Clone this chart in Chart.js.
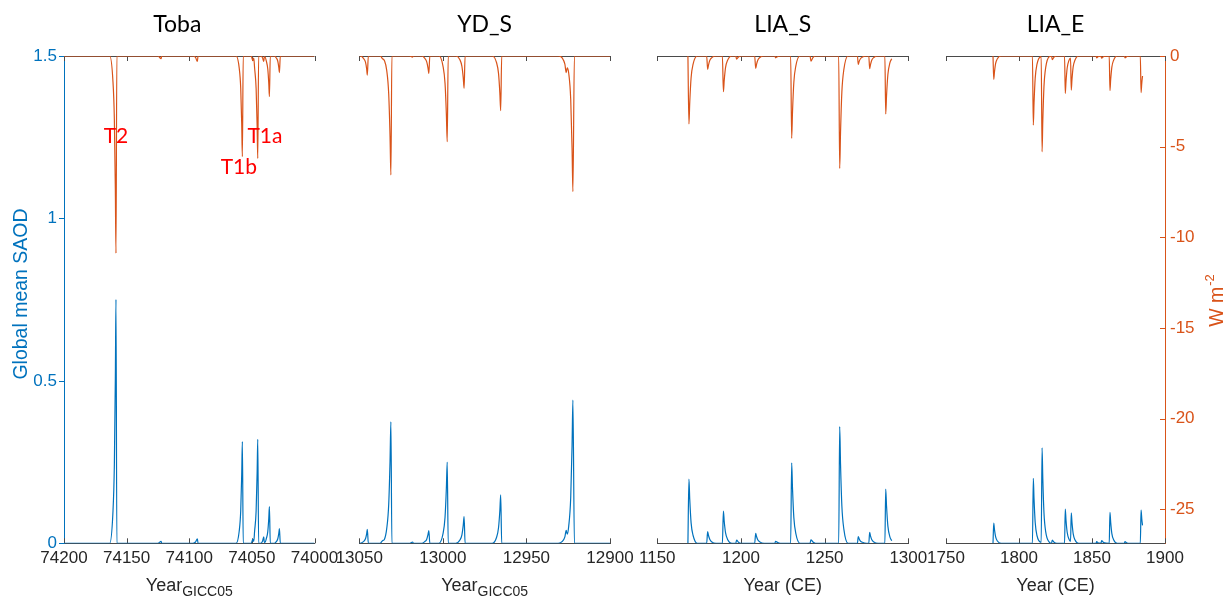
<!DOCTYPE html>
<html>
<head>
<meta charset="utf-8">
<script src="https://cdn.jsdelivr.net/npm/chart.js@4/dist/chart.umd.min.js"></script>
<style>
html,body{margin:0;padding:0;background:#fff;width:1231px;height:602px;overflow:hidden}
canvas{position:absolute;left:0;top:0}
</style>
</head>
<body>
<canvas id="c1" width="1231" height="602"></canvas>
<canvas id="c2" width="1231" height="602"></canvas>
<canvas id="c3" width="1231" height="602"></canvas>
<canvas id="c4" width="1231" height="602"></canvas>
<script>
// ---------------- data ----------------
const panelTitles = ["Toba", "YD_S", "LIA_S", "LIA_E"];

const tobaYears = [74200, 74163.5, 74161, 74159.8, 74159, 74158.5, 74157.8, 74125, 74122.5, 74122, 74097, 74095, 74093.5, 74093, 74062.6, 74060.1, 74058.9, 74058.1, 74057.6, 74056.9, 74050.5, 74049.3, 74048.5, 74047.8, 74046.6, 74045.8, 74045.3, 74044.6, 74043, 74041.5, 74040.5, 74040.1, 74039.5, 74038.5, 74037.3, 74036.5, 74036.0, 74035.3, 74032, 74030.5, 74029.3, 74028.5, 74028.0, 74027.3, 74000];
const tobaSaod = [0, 0, 0.09, 0.24, 0.51, 0.751, 0, 0, 0.006, 0, 0, 0.004, 0.014, 0, 0, 0.038, 0.10, 0.213, 0.313, 0, 0, 0.012, 0.006, 0.038, 0.10, 0.218, 0.320, 0, 0, 0.006, 0.02, 0.003, 0.003, 0.014, 0.036, 0.077, 0.113, 0, 0, 0.005, 0.014, 0.031, 0.045, 0, 0];
const tobaForcing = [0, 0, -1.31, -3.48, -7.40, -10.88, 0, 0, -0.15, 0, 0, -0.08, -0.30, 0, 0, -0.67, -1.78, -3.77, -5.55, 0, 0, -0.25, -0.12, -0.68, -1.81, -3.84, -5.65, 0, 0, -0.10, -0.30, -0.05, -0.05, -0.27, -0.72, -1.52, -2.24, 0, 0, -0.11, -0.29, -0.63, -0.92, 0, 0];

const ydYears = [13050, 13049.5, 13047.5, 13046.3, 13045.6, 13045.2, 13044.6, 13037.5, 13036.1, 13035, 13033.6, 13032.4, 13031.6, 13031.1, 13030.5, 13020, 13018.1, 13017.5, 13012.5, 13010.9, 13009.7, 13008.9, 13008.4, 13007.8, 13002.4, 12999.9, 12998.7, 12997.9, 12997.4, 12996.8, 12992.3, 12989.8, 12988.6, 12987.8, 12987.3, 12986.7, 12970.4, 12967.9, 12966.7, 12965.9, 12965.4, 12964.8, 12931, 12928.5, 12927, 12926.2, 12925.6, 12924.7, 12923.5, 12922.7, 12922.2, 12921.3, 12900];
const ydSaod = [0, 0, 0.005, 0.014, 0.029, 0.043, 0, 0, 0.008, 0.012, 0.045, 0.12, 0.254, 0.374, 0, 0, 0.004, 0, 0, 0.005, 0.012, 0.027, 0.039, 0, 0, 0.030, 0.080, 0.170, 0.250, 0, 0, 0.010, 0.026, 0.056, 0.082, 0, 0, 0.018, 0.048, 0.101, 0.149, 0, 0, 0.006, 0.020, 0.040, 0.028, 0.053, 0.141, 0.300, 0.441, 0, 0];
const ydForcing = [0, 0, -0.13, -0.34, -0.71, -1.05, 0, 0, -0.15, -0.25, -0.79, -2.10, -4.46, -6.56, 0, 0, -0.06, 0, 0, -0.12, -0.31, -0.65, -0.96, 0, 0, -0.57, -1.51, -3.22, -4.73, 0, 0, -0.21, -0.57, -1.21, -1.78, 0, 0, -0.36, -0.96, -2.05, -3.01, 0, 0, -0.12, -0.45, -0.92, -0.65, -0.95, -2.39, -5.09, -7.48, 0, 0];

const liasYears = [1168.3, 1168.9, 1169.4, 1170.2, 1171.4, 1173.9, 1179.5, 1180.1, 1180.6, 1181.4, 1182.6, 1185.1, 1188.9, 1189.5, 1190.0, 1190.8, 1192.0, 1194.5, 1196.9, 1197.4, 1198.5, 1200, 1208.2, 1208.8, 1209.3, 1210.1, 1211.3, 1213.8, 1220.2, 1220.7, 1222, 1223.5, 1229.7, 1230.3, 1230.8, 1231.6, 1232.8, 1235.3, 1241.3, 1241.8, 1243, 1244.5, 1258.4, 1259.0, 1259.5, 1260.3, 1261.5, 1264, 1269.6, 1270.1, 1270.6, 1271.4, 1272.6, 1275, 1276.4, 1276.9, 1277.4, 1278.2, 1279.4, 1281.9, 1286.0, 1286.5, 1287.0, 1287.8, 1289.0, 1290.1];
const liasSaod = [0, 0.198, 0.135, 0.063, 0.024, 0, 0, 0.036, 0.024, 0.012, 0.004, 0, 0, 0.099, 0.067, 0.032, 0.012, 0, 0, 0.010, 0.003, 0, 0, 0.031, 0.021, 0.010, 0.004, 0, 0, 0.006, 0.002, 0, 0, 0.248, 0.169, 0.079, 0.030, 0, 0, 0.011, 0.004, 0, 0, 0.359, 0.244, 0.115, 0.043, 0, 0, 0.021, 0.014, 0.007, 0.003, 0, 0, 0.034, 0.023, 0.011, 0.004, 0, 0, 0.167, 0.114, 0.053, 0.020, 0.008];
const liasForcing = [0, -3.75, -2.55, -1.20, -0.45, 0, 0, -0.74, -0.50, -0.24, -0.09, 0, 0, -1.97, -1.34, -0.63, -0.24, 0, 0, -0.17, -0.05, 0, 0, -0.68, -0.46, -0.22, -0.08, 0, 0, -0.10, -0.03, 0, 0, -4.54, -3.09, -1.45, -0.54, 0, 0, -0.28, -0.09, 0, 0, -6.20, -4.22, -1.98, -0.74, 0, 0, -0.46, -0.31, -0.15, -0.06, 0, 0, -0.70, -0.48, -0.22, -0.08, 0, 0, -3.20, -2.18, -1.02, -0.38, -0.15];

const liaeYears = [1782.2, 1782.7, 1783.2, 1784.0, 1785.2, 1787.7, 1809.2, 1809.8, 1810.3, 1811.1, 1812.3, 1815.2, 1815.8, 1816.3, 1817.1, 1818.3, 1820.8, 1822.3, 1822.8, 1824, 1826, 1831.2, 1831.7, 1832.2, 1833.0, 1834.2, 1835.3, 1835.8, 1836.3, 1837.1, 1838.3, 1840.8, 1852.8, 1853.2, 1854.5, 1856.2, 1856.6, 1858, 1861.8, 1862.3, 1862.8, 1863.6, 1864.8, 1867.3, 1872.2, 1872.6, 1874, 1876, 1883.1, 1883.6, 1884.1, 1884.6];
const liaeSaod = [0, 0.062, 0.042, 0.020, 0.007, 0, 0, 0.200, 0.136, 0.064, 0.024, 0.003, 0.294, 0.200, 0.094, 0.035, 0.003, 0, 0.010, 0.003, 0, 0, 0.105, 0.071, 0.034, 0.013, 0.006, 0.094, 0.064, 0.030, 0.011, 0, 0, 0.005, 0.001, 0.001, 0.008, 0.002, 0, 0.095, 0.065, 0.030, 0.011, 0, 0, 0.005, 0.001, 0, 0, 0.102, 0.075, 0.055];
const liaeForcing = [0, -1.29, -0.88, -0.41, -0.15, 0, 0, -3.81, -2.59, -1.22, -0.46, -0.03, -5.28, -3.59, -1.69, -0.63, -0.03, 0, -0.20, -0.06, 0, 0, -2.06, -1.40, -0.66, -0.25, -0.12, -1.88, -1.28, -0.60, -0.23, 0, 0, -0.10, -0.02, -0.02, -0.12, -0.03, 0, -1.91, -1.30, -0.61, -0.23, 0, 0, -0.10, -0.02, 0, 0, -2.02, -1.50, -1.10];

const tobaTicks = [74200, 74150, 74100, 74050, 74000];
const ydTicks = [13050, 13000, 12950, 12900];
const liasTicks = [1150, 1200, 1250, 1300];
const liaeTicks = [1750, 1800, 1850, 1900];
const saodTicks = [0, 0.5, 1, 1.5];
const forcingTicks = [0, -5, -10, -15, -20, -25];

// Toba eruption labels: text, year position, forcing position (label baseline)
const noteLabels = ["T2", "T1b", "T1a"];
const noteYears = [74158.5, 74060.4, 74039.6];
const noteForcing = [-4.8, -6.5, -4.8];

// ---------------- style ----------------
const BLUE = '#0072BD';
const ORANGE = '#D95319';
const AXIS = '#4a4a4a';
const TXT = '#262626';
const SANS = "'Liberation Sans', Arial, sans-serif";
const TOP = 56, BOTTOM = 543.3, W = 1231, H = 602;
const FMIN = -26.88;

function makePanel(p) {
  const pts = ys => p.years.map((x, i) => ({x: x, y: ys[i]}));
  const decor = {
    id: 'decor' + p.id,
    beforeDatasetsDraw(chart) {
      const ctx = chart.ctx, a = chart.chartArea, xs = chart.scales.x;
      ctx.save();
      ctx.strokeStyle = AXIS; ctx.lineWidth = 1;
      ctx.beginPath();
      ctx.moveTo(a.left, a.top + 0.5); ctx.lineTo(a.right, a.top + 0.5);
      xs.ticks.forEach(t => {
        const x = Math.round(xs.getPixelForValue(t.value)) + 0.5;
        ctx.moveTo(x, a.bottom); ctx.lineTo(x, a.bottom - 5);
        ctx.moveTo(x, a.top); ctx.lineTo(x, a.top + 5);
      });
      ctx.stroke();
      if (p.showLeft) {
        const ys = chart.scales.y;
        ctx.strokeStyle = BLUE; ctx.beginPath();
        ys.ticks.forEach(t => {
          const y = Math.round(ys.getPixelForValue(t.value)) + 0.5;
          ctx.moveTo(a.left - 5, y); ctx.lineTo(a.left, y);
        });
        ctx.stroke();
      }
      if (p.showRight) {
        const ys = chart.scales.y2;
        ctx.strokeStyle = ORANGE; ctx.beginPath();
        ys.ticks.forEach(t => {
          const y = Math.round(ys.getPixelForValue(t.value)) + 0.5;
          ctx.moveTo(a.right - 5, y); ctx.lineTo(a.right, y);
        });
        ctx.stroke();
      }
      ctx.restore();
    },
    afterDraw(chart) {
      const ctx = chart.ctx, a = chart.chartArea;
      const cx = (a.left + a.right) / 2;
      ctx.save();
      // panel title
      ctx.fillStyle = '#000'; ctx.font = "23px Lato, 'Open Sans', sans-serif";
      ctx.textAlign = 'center'; ctx.textBaseline = 'alphabetic';
      ctx.fillText(p.title, cx + (p.titleShift || 0), 31.5);
      // x title with optional subscript
      ctx.fillStyle = TXT; ctx.textAlign = 'left';
      ctx.font = '18px ' + SANS;
      const w1 = ctx.measureText(p.xTitle).width;
      let w2 = 0;
      if (p.xSub) { ctx.font = '14px ' + SANS; w2 = ctx.measureText(p.xSub).width; }
      const sx = cx - (w1 + w2) / 2;
      ctx.font = '18px ' + SANS; ctx.fillText(p.xTitle, sx, 590.5);
      if (p.xSub) { ctx.font = '14px ' + SANS; ctx.fillText(p.xSub, sx + w1, 596); }
      // left axis title
      if (p.showLeft) {
        ctx.save();
        ctx.translate(27, 294); ctx.rotate(-Math.PI / 2);
        ctx.fillStyle = BLUE; ctx.font = '19.5px ' + SANS; ctx.textAlign = 'center';
        ctx.fillText('Global mean SAOD', 0, 0);
        ctx.restore();
      }
      // right axis title W m^-2
      if (p.showRight) {
        ctx.save();
        ctx.translate(1223, 301); ctx.rotate(-Math.PI / 2);
        ctx.fillStyle = ORANGE; ctx.textAlign = 'left';
        ctx.font = '19.5px ' + SANS;
        const m1 = ctx.measureText('W m').width;
        ctx.font = '13px ' + SANS;
        const m2 = ctx.measureText('-2').width;
        const s = -(m1 + m2) / 2;
        ctx.font = '19.5px ' + SANS; ctx.fillText('W m', s, 0);
        ctx.font = '13px ' + SANS; ctx.fillText('-2', s + m1 + 1, -9);
        ctx.restore();
      }
      // annotations
      if (p.notes) {
        const xs = chart.scales.x, ys = chart.scales.y2;
        ctx.fillStyle = '#FF0000'; ctx.font = "21px Lato, 'Open Sans', sans-serif";
        ctx.textAlign = 'center'; ctx.textBaseline = 'alphabetic';
        p.notes.labels.forEach((t, i) => {
          ctx.fillText(t, xs.getPixelForValue(p.notes.years[i]), ys.getPixelForValue(p.notes.forcing[i]));
        });
      }
      ctx.restore();
    }
  };

  const tickFont = {family: SANS, size: 17};
  new Chart(document.getElementById(p.id), {
    type: 'line',
    data: {
      datasets: [
        {data: pts(p.saod), yAxisID: 'y', borderColor: BLUE, borderWidth: 1.2, pointRadius: 0, fill: false, cubicInterpolationMode: 'monotone'},
        {data: pts(p.forcing), yAxisID: 'y2', borderColor: ORANGE, borderWidth: 1.2, pointRadius: 0, fill: false, cubicInterpolationMode: 'monotone'}
      ]
    },
    options: {
      responsive: false, animation: false, events: [],
      layout: {padding: {left: p.showLeft ? 0 : p.left, right: p.showRight ? 0 : W - p.right, top: TOP, bottom: 0}},
      plugins: {legend: {display: false}, tooltip: {enabled: false}, title: {display: false}},
      scales: {
        x: {
          type: 'linear', min: p.xMin, max: p.xMax, reverse: p.reverse,
          afterBuildTicks: s => { s.ticks = p.xTicks.map(v => ({value: v})); },
          afterFit: s => { s.height = H - BOTTOM; },
          grid: {display: false, drawTicks: false},
          border: {display: true, color: AXIS, width: 1},
          ticks: {autoSkip: false, maxRotation: 0, minRotation: 0, padding: 5, color: TXT, font: tickFont, callback: v => String(v)}
        },
        y: {
          display: p.showLeft, position: 'left', min: 0, max: 1.5,
          afterBuildTicks: s => { s.ticks = saodTicks.map(v => ({value: v})); },
          afterFit: s => { s.width = p.showLeft ? p.left : 0; },
          grid: {display: false, drawTicks: false},
          border: {display: true, color: BLUE, width: 1},
          ticks: {padding: 7, color: BLUE, font: tickFont, callback: v => String(v)}
        },
        y2: {
          display: p.showRight, position: 'right', min: FMIN, max: 0,
          afterBuildTicks: s => { s.ticks = forcingTicks.map(v => ({value: v})); },
          afterFit: s => { s.width = p.showRight ? W - p.right : 0; },
          grid: {display: false, drawTicks: false},
          border: {display: true, color: ORANGE, width: 1},
          ticks: {padding: 5, color: ORANGE, font: tickFont, callback: v => String(v)}
        }
      }
    },
    plugins: [decor]
  });
}

makePanel({id: 'c1', title: panelTitles[0], titleShift: -12, years: tobaYears, saod: tobaSaod, forcing: tobaForcing,
  xMin: 74000, xMax: 74200, reverse: true, xTicks: tobaTicks, left: 64, right: 314.5,
  xTitle: 'Year', xSub: 'GICC05', showLeft: true, showRight: false,
  notes: {labels: noteLabels, years: noteYears, forcing: noteForcing}});
makePanel({id: 'c2', title: panelTitles[1], years: ydYears, saod: ydSaod, forcing: ydForcing,
  xMin: 12900, xMax: 13050, reverse: true, xTicks: ydTicks, left: 359.3, right: 610,
  xTitle: 'Year', xSub: 'GICC05', showLeft: false, showRight: false});
makePanel({id: 'c3', title: panelTitles[2], years: liasYears, saod: liasSaod, forcing: liasForcing,
  xMin: 1150, xMax: 1300, reverse: false, xTicks: liasTicks, left: 657.3, right: 908.3,
  xTitle: 'Year (CE)', xSub: '', showLeft: false, showRight: false});
makePanel({id: 'c4', title: panelTitles[3], years: liaeYears, saod: liaeSaod, forcing: liaeForcing,
  xMin: 1750, xMax: 1900, reverse: false, xTicks: liaeTicks, left: 946, right: 1165,
  xTitle: 'Year (CE)', xSub: '', showLeft: false, showRight: true});
</script>
</body>
</html>
